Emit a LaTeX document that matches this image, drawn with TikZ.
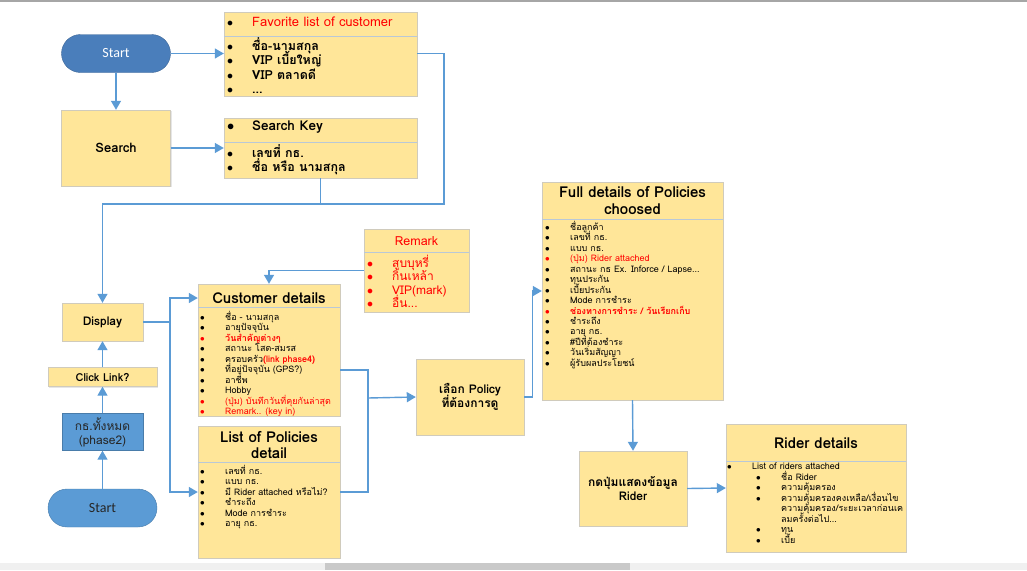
\documentclass[tikz,border=0pt]{standalone}
\usepackage{fontspec}
\setmainfont[Script=Thai]{Loma}
\newfontfamily\calfont{Carlito}
\usetikzlibrary{arrows.meta,positioning,shadows}
\definecolor{cardfill}{RGB}{255,230,153}
\definecolor{cardline}{RGB}{208,203,188}
\definecolor{sepline}{RGB}{185,200,215}
\definecolor{flowblue}{RGB}{91,155,213}
\definecolor{startdark}{RGB}{74,126,187}
\definecolor{thred}{RGB}{255,0,0}
\setlength{\lineskiplimit}{-100pt}
\newcommand{\itm}[1]{\makebox[25pt][l]{$\bullet$}#1}
\newcommand{\subitm}[1]{\hspace*{29pt}\makebox[25pt][l]{$\bullet$}#1}

\begin{document}
\begin{tikzpicture}[
    x=1pt,y=-1pt,
    card/.style={rectangle,draw=cardline,fill=cardfill,inner sep=0pt,
      drop shadow={shadow xshift=1.2pt,shadow yshift=-1.2pt,opacity=.2}},
    pill/.style={rectangle,rounded corners=19pt,inner sep=0pt,minimum width=109pt,
      minimum height=38pt,font=\calfont\fontsize{14}{16}\selectfont},
    head/.style={inner sep=0pt,align=center,font=\bfseries\fontsize{15}{16.5}\selectfont},
    items/.style={anchor=north west,inner sep=0pt,align=left,font=\fontsize{9}{10.45}\selectfont},
    bigitems/.style={anchor=north west,inner sep=0pt,align=left,font=\bfseries\fontsize{12.5}{14.3}\selectfont},
    boxtext/.style={align=center,font=\bfseries\fontsize{12}{14}\selectfont},
    sep/.style={draw=sepline,line width=0.8pt},
    arrow/.style={-{Triangle[length=9pt,width=10pt]},draw=flowblue,line width=1.4pt},
    link/.style={draw=flowblue,line width=1.4pt}
  ]
    \useasboundingbox (0,0) rectangle (1027,570);
    \fill[black!35] (0,0) rectangle (1027,1.5);
    \fill[black!6] (0,563) rectangle (1027,570);
    \fill[black!21] (325,563) rectangle (630,570);

    \node[pill,fill=startdark,draw=startdark!80!black,text=white] (start) at (116,53.5) {Start};
    \node[card,boxtext,font=\bfseries\fontsize{13}{15}\selectfont,minimum width=109pt,minimum height=76pt]
      (search) at (116,148) {Search};

    \node[card,minimum width=193pt,minimum height=84pt] (fav) at (320.5,54) {};
    \node[anchor=west,inner sep=0pt,font=\fontsize{13}{15}\selectfont] (favhead) at (227,22)
      {\itm{\textcolor{thred}{Favorite list of customer}}};
    \draw[sep] ([yshift=-25pt]fav.north west) -- ([yshift=-25pt]fav.north east);
    \node[bigitems] (favitems) at (227,37.5)
      {\itm{ชื่อ-นามสกุล}\\\itm{VIP เบี้ยใหญ่}\\\itm{VIP ตลาดดี}\\\itm{...}};

    \node[card,minimum width=193pt,minimum height=60pt] (skey) at (320.5,148) {};
    \node[anchor=west,inner sep=0pt,font=\bfseries\fontsize{13.5}{15}\selectfont] (skhead) at (227,127)
      {\itm{Search Key}};
    \draw[sep] ([yshift=-25pt]skey.north west) -- ([yshift=-25pt]skey.north east);
    \node[bigitems] (skitems) at (227,144.5) {\itm{เลขที่ กธ.}\\\itm{ชื่อ หรือ นามสกุล}};

    \node[card,boxtext,minimum width=81pt,minimum height=38pt] (display) at (102.5,322) {Display};
    \node[card,boxtext,font=\bfseries\fontsize{11}{13}\selectfont,minimum width=109pt,minimum height=19pt]
      (click) at (102.5,377) {Click Link?};
    \node[rectangle,fill=flowblue,draw=flowblue!80!black,minimum width=81pt,minimum height=37pt,
      inner sep=0pt,align=center,text=black!85,font=\fontsize{12}{14}\selectfont] (all) at (102.5,432)
      {กธ.ทั้งหมด\\(phase2)};
    \node[pill,fill=flowblue,draw=flowblue!80!black,text=black!85] (start2) at (102.5,508) {Start};

    \node[card,minimum width=142pt,minimum height=132pt] (cust) at (269,350) {};
    \node[head] (custhead) at (269,298) {Customer details};
    \draw[sep] ([yshift=-24pt]cust.north west) -- ([yshift=-24pt]cust.north east);
    \node[items] (custitems) at (200,311)
      {\itm{ชื่อ - นามสกุล}\\\itm{อายุปัจจุบัน}\\
       \textcolor{thred}{\itm{\bfseries วันสำคัญต่างๆ}}\\\itm{สถานะ โสด-สมรส}\\
       \itm{ครอบครัว\textcolor{thred}{\bfseries(link phase4)}}\\\itm{ที่อยู่ปัจจุบัน (GPS?)}\\
       \itm{อาชีพ}\\\itm{Hobby}\\
       \textcolor{thred}{\itm{(ปุ่ม) บันทึกวันที่คุยกันล่าสุด}}\\\textcolor{thred}{\itm{Remark.. (key in)}}};

    \node[card,minimum width=142pt,minimum height=132pt] (pol) at (269,492) {};
    \node[head] (polhead) at (269,445) {List of Policies\\detail};
    \draw[sep] ([yshift=-37pt]pol.north west) -- ([yshift=-37pt]pol.north east);
    \node[items] (politems) at (200,465)
      {\itm{เลขที่ กธ.}\\\itm{แบบ กธ.}\\\itm{มี Rider attached หรือไม่?}\\
       \itm{ชำระถึง}\\\itm{Mode การชำระ}\\\itm{อายุ กธ.}};

    \node[card,minimum width=105pt,minimum height=83pt] (remark) at (416.5,270.5) {};
    \node[inner sep=0pt,text=thred,font=\fontsize{12.5}{14}\selectfont] (remarkhead) at (416.5,241) {Remark};
    \draw[sep] ([yshift=-24pt]remark.north west) -- ([yshift=-24pt]remark.north east);
    \node[anchor=north west,inner sep=0pt,align=left,text=thred,font=\fontsize{12}{13.4}\selectfont]
      (remarkitems) at (367,255)
      {\itm{สูบบุหรี่}\\\itm{กินเหล้า}\\\itm{VIP(mark)}\\\itm{อื่น...}};

    \node[card,boxtext,minimum width=108pt,minimum height=76pt] (pick) at (470,397)
      {เลือก Policy\\ที่ต้องการดู};

    \node[card,minimum width=181pt,minimum height=218pt] (full) at (632.5,291) {};
    \node[head] (fullhead) at (632.5,200.5) {Full details of Policies\\choosed};
    \draw[sep] ([yshift=-38pt]full.north west) -- ([yshift=-38pt]full.north east);
    \node[items] (fullitems) at (545,221)
      {\itm{ชื่อลูกค้า}\\\itm{เลขที่ กธ.}\\\itm{แบบ กธ.}\\
       \textcolor{thred}{\itm{(ปุ่ม) Rider attached}}\\\itm{สถานะ กธ Ex. Inforce / Lapse...}\\
       \itm{ทุนประกัน}\\\itm{เบี้ยประกัน}\\\itm{Mode การชำระ}\\
       \textcolor{thred}{\itm{\bfseries ช่องทางการชำระ / วันเรียกเก็บ}}\\\itm{ชำระถึง}\\
       \itm{อายุ กธ.}\\\itm{\#ปีที่ต้องชำระ}\\\itm{วันเริ่มสัญญา}\\\itm{ผู้รับผลประโยชน์}};

    \node[card,boxtext,minimum width=108pt,minimum height=75pt] (press) at (633,488.5)
      {กดปุ่มแสดงข้อมูล\\Rider};

    \node[card,minimum width=180pt,minimum height=128pt] (rider) at (816,488) {};
    \node[head] (riderhead) at (816,443) {Rider details};
    \draw[sep] ([yshift=-38pt]rider.north west) -- ([yshift=-38pt]rider.north east);
    \node[items] (rideritems) at (727,463)
      {\itm{List of riders attached}\\\subitm{ชื่อ Rider}\\\subitm{ความคุ้มครอง}\\
       \subitm{ความคุ้มครองคงเหลือ/เงื่อนไข}\\\hspace*{54pt}ความคุ้มครอง/ระยะเวลาก่อนเค\\
       \hspace*{54pt}ลมครั้งต่อไป...\\\subitm{ทุน}\\\subitm{เบี้ย}};

    \coordinate (join) at (444,204);
    \coordinate (split) at (170,322);
    \coordinate (merge) at (368,398);

    \draw[arrow] (start.east) -- (start.east -| fav.west);
    \draw[arrow] (start) -- (search);
    \draw[arrow] (search) -- (skey);
    \draw[arrow] (start.east -| fav.east) -| (join) -| (display.north);
    \draw[link] (skey.south) -- (skey.south |- join);

    \draw[arrow] (all) -- (click);
    \draw[arrow] (start2) -- (all);
    \draw[arrow] (click) -- (display);

    \draw[link] (display.east) -- (split);
    \draw[arrow] (split) |- (cust.west |- custhead);
    \draw[arrow] (split) |- (pol.west);
    \draw[arrow] (remark.west) -| (cust.north);

    \draw[link] ([yshift=-20pt]cust.east) -| (merge);
    \draw[link] (pol.east) -| (merge);
    \draw[arrow] (merge) -- (pick.west);
    \draw[arrow] (pick.east) -- ++(8,0) |- (full.west);
    \draw[arrow] (full.south) -- (press.north);
    \draw[arrow] (press.east) -- (rider.west);
  \end{tikzpicture}
\end{document}
